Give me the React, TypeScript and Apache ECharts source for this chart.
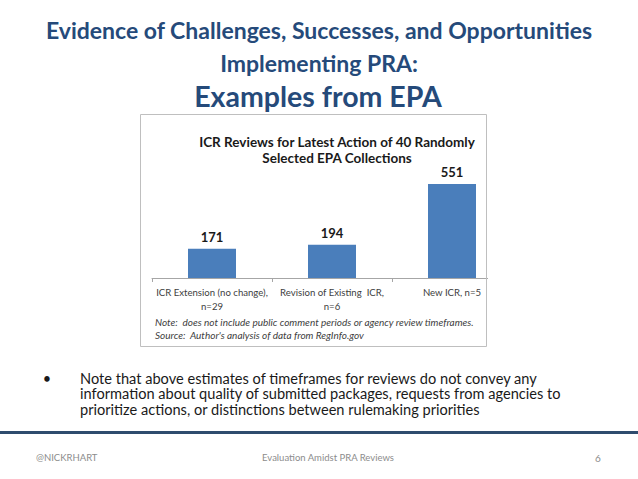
import React, { useEffect, useRef } from "react";
import * as echarts from "echarts";

const categories = ["ICR Extension (no change),\nn=29", "Revision of Existing  ICR,\nn=6", "New ICR, n=5"];
const reviewDays = [171, 194, 551];

const slideTitleLines = ["Evidence of Challenges, Successes, and Opportunities", "Implementing PRA:"];
const slideSubtitle = "Examples from EPA";
const chartTitle = "ICR Reviews for Latest Action of 40 Randomly\nSelected EPA Collections";
const noteLines = [
  "Note:  does not include public comment periods or agency review timeframes.",
  "Source:  Author's analysis of data from RegInfo.gov",
];
const bulletLines = [
  "Note that above estimates of timeframes for reviews do not convey any",
  "information about quality of submitted packages, requests from agencies to",
  "prioritize actions, or distinctions between rulemaking priorities",
];
const footerLeft = "@NICKRHART";
const footerCenter = "Evaluation Amidst PRA Reviews";
const footerRight = "6";

const FONT = "Lato, 'Open Sans', sans-serif";
const BLUE_TITLE = "#254a7a";

export default function App() {
  const ref = useRef<HTMLDivElement>(null);
  useEffect(() => {
    if (!ref.current) return;
    const chart = echarts.init(ref.current, undefined, { renderer: "svg" });
    const graphic: any[] = [];
    slideTitleLines.forEach((t, i) => {
      graphic.push({
        type: "text", x: 319, y: 30 + i * 33,
        style: { text: t, fill: BLUE_TITLE, font: `bold 23px ${FONT}`, textAlign: "center", textVerticalAlign: "middle" },
      });
    });
    graphic.push({
      type: "text", x: 318, y: 96,
      style: { text: slideSubtitle, fill: BLUE_TITLE, font: `bold 28.5px ${FONT}`, textAlign: "center", textVerticalAlign: "middle" },
    });
    noteLines.forEach((t, i) => {
      graphic.push({
        type: "text", x: 155, y: 322 + i * 13, z: 20,
        style: { text: t, fill: "#404040", font: `italic 10px ${FONT}`, textAlign: "left", textVerticalAlign: "middle" },
      });
    });
    // mask for cropped right part of the original chart
    graphic.push({ type: "rect", z: 30, shape: { x: 488, y: 112, width: 40, height: 240 }, style: { fill: "#ffffff" } });
    // chart frame
    graphic.push({ type: "rect", z: 31, shape: { x: 140.5, y: 114.5, width: 346, height: 232 }, style: { fill: "none", stroke: "#bfbfbf", lineWidth: 1 } });
    graphic.push({
      type: "text", x: 47, y: 378,
      style: { text: "•", fill: "#1a1a1a", font: `14.5px ${FONT}`, textAlign: "center", textVerticalAlign: "middle" },
    });
    bulletLines.forEach((t, i) => {
      graphic.push({
        type: "text", x: 80, y: 378 + i * 15.8,
        style: { text: t, fill: "#1a1a1a", font: `14.6px ${FONT}`, textAlign: "left", textVerticalAlign: "middle" },
      });
    });
    graphic.push({ type: "rect", shape: { x: 0, y: 431, width: 638, height: 3 }, style: { fill: "#2f4c6e" } });
    graphic.push({
      type: "text", x: 36, y: 457,
      style: { text: footerLeft, fill: "#8c8c8c", font: `9.5px ${FONT}`, textAlign: "left", textVerticalAlign: "middle" },
    });
    graphic.push({
      type: "text", x: 328, y: 457,
      style: { text: footerCenter, fill: "#8c8c8c", font: `9.5px ${FONT}`, textAlign: "center", textVerticalAlign: "middle" },
    });
    graphic.push({
      type: "text", x: 598, y: 458,
      style: { text: footerRight, fill: "#8c8c8c", font: `10px ${FONT}`, textAlign: "center", textVerticalAlign: "middle" },
    });

    chart.setOption({
      animation: false,
      backgroundColor: "#ffffff",
      title: {
        text: chartTitle,
        left: 332,
        top: 129,
        textAlign: "center",
        textStyle: { fontFamily: FONT, fontWeight: "bold", fontSize: 13.5, lineHeight: 16, color: "#1a1a1a" },
      },
      grid: { left: 152, top: 167, width: 360, height: 111, containLabel: false },
      xAxis: {
        type: "category",
        data: categories,
        axisLine: { show: true, lineStyle: { color: "#a6a6a6", width: 1 } },
        axisTick: { show: true, length: 4, lineStyle: { color: "#a6a6a6" } },
        axisLabel: { color: "#404040", fontFamily: FONT, fontSize: 9.6, lineHeight: 14, margin: 7, interval: 0 },
      },
      yAxis: { type: "value", min: 0, max: 650, show: false, splitLine: { show: false } },
      series: [
        {
          type: "bar",
          data: reviewDays,
          barWidth: 48,
          itemStyle: { color: "#4a7ebb" },
          label: { show: true, position: "top", distance: 5, color: "#1a1a1a", fontFamily: FONT, fontWeight: "bold", fontSize: 13 },
        },
      ],
      graphic,
    });
    return () => chart.dispose();
  }, []);
  return (
    <div style={{ position: "fixed", left: 0, top: 0, width: 638, height: 479, background: "#fff" }}>
      <div ref={ref} style={{ width: 638, height: 479 }} />
    </div>
  );
}
